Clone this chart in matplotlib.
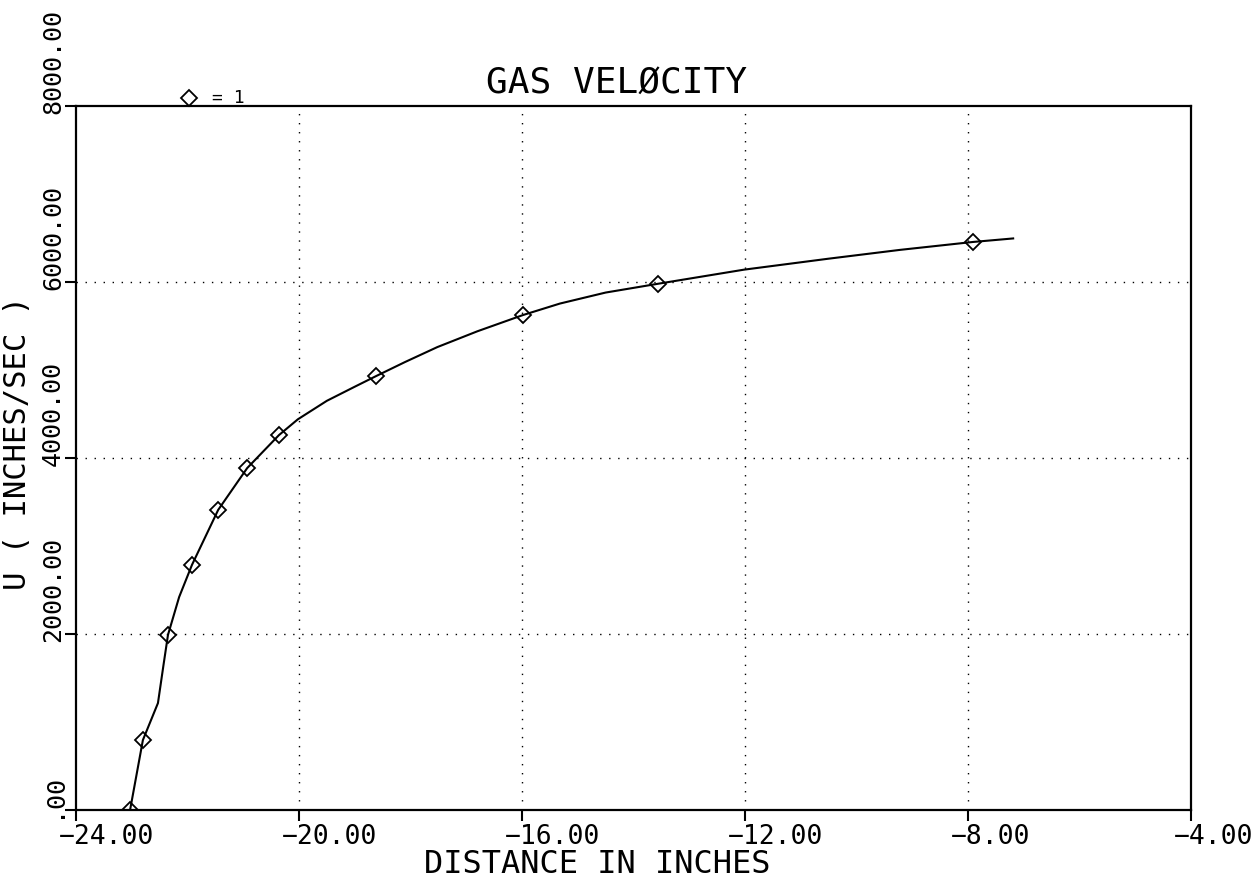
import matplotlib
matplotlib.use("Agg")
import matplotlib.pyplot as plt
from matplotlib.transforms import ScaledTranslation

# measured points (diamond markers)
dist = [-23.03, -22.80, -22.35, -21.92, -21.45, -20.93, -20.36, -18.62, -15.98, -13.56, -7.91]
vel = [0, 795, 1990, 2785, 3410, 3885, 4260, 4930, 5625, 5980, 6455]

# drawn curve
curve_x = [-23.03, -22.80, -22.53, -22.43, -22.35, -22.15, -21.92, -21.45, -20.93, -20.36,
           -20.02, -19.50, -19.00, -18.62, -18.10, -17.52, -16.80, -15.98, -15.32, -14.50,
           -13.56, -12.02, -10.50, -9.22, -7.91, -7.19]
curve_y = [0, 795, 1215, 1650, 1990, 2420, 2785, 3410, 3885, 4260,
           4440, 4650, 4810, 4930, 5090, 5260, 5440, 5625, 5755, 5880,
           5980, 6140, 6265, 6365, 6455, 6495]

xticks = [-24, -20, -16, -12, -8, -4]
xtick_labels = ["\u221224.00", "\u221220.00", "\u221216.00", "\u221212.00", "\u22128.00", "\u22124.00"]
yticks = [0, 2000, 4000, 6000, 8000]
ytick_labels = [".00", "2000.00", "4000.00", "6000.00", "8000.00"]

plt.rcParams["font.family"] = ["DejaVu Sans Mono"]

fig = plt.figure(figsize=(12.6, 8.8), dpi=100)
ax = fig.add_axes([76 / 1260, 1 - 810 / 880, 1115 / 1260, 704 / 880])

ax.plot(curve_x, curve_y, color="black", lw=1.5, zorder=3)
ax.plot(dist, vel, linestyle="none", marker="D", markersize=8.5,
        markerfacecolor="none", markeredgecolor="black", markeredgewidth=1.3, zorder=4)

ax.set_xlim(-24, -4)
ax.set_ylim(0, 8000)

# dotted grid
for x in xticks[1:-1]:
    ax.axvline(x, color="black", lw=1.0, linestyle=(0, (1, 5.5)), zorder=1)
for y in yticks[1:-1]:
    ax.axhline(y, color="black", lw=1.0, linestyle=(0, (1, 5.5)), zorder=1)

for sp in ax.spines.values():
    sp.set_linewidth(1.6)

ax.set_xticks(xticks, xtick_labels)
ax.set_yticks(yticks, ytick_labels)
ax.tick_params(direction="out", length=8, width=1.5)
ax.tick_params(axis="x", labelsize=19, pad=2)
ax.tick_params(axis="y", labelsize=18, pad=0)

for lab in ax.get_xticklabels():
    lab.set_ha("left")
    lab.set_transform(lab.get_transform() + ScaledTranslation(-17 / 100, 0, fig.dpi_scale_trans))
for lab in ax.get_yticklabels():
    lab.set_rotation(90)
    lab.set_va("bottom")
    lab.set_ha("right")
    lab.set_transform(lab.get_transform() + ScaledTranslation(0, -8 / 100, fig.dpi_scale_trans))

fig.text(616 / 1260, 1 - 93 / 880, "GAS VEL\u00d8CITY", fontsize=26, ha="center", va="baseline")
fig.text(597 / 1260, 1 - 873 / 880, "DISTANCE IN INCHES", fontsize=23, ha="center", va="baseline")
fig.text(18 / 1260, 1 - 443 / 880, "U ( INCHES/SEC )", fontsize=22, rotation=90, ha="center", va="center")

# legend key above the frame
ax.plot([0.1013], [1.011], transform=ax.transAxes, clip_on=False, marker="D", markersize=8,
        markerfacecolor="none", markeredgecolor="black", markeredgewidth=1.3)
ax.text(0.122, 1.011, "= 1", transform=ax.transAxes, fontsize=13, ha="left", va="center")

fig.savefig("out.png", dpi=100)
